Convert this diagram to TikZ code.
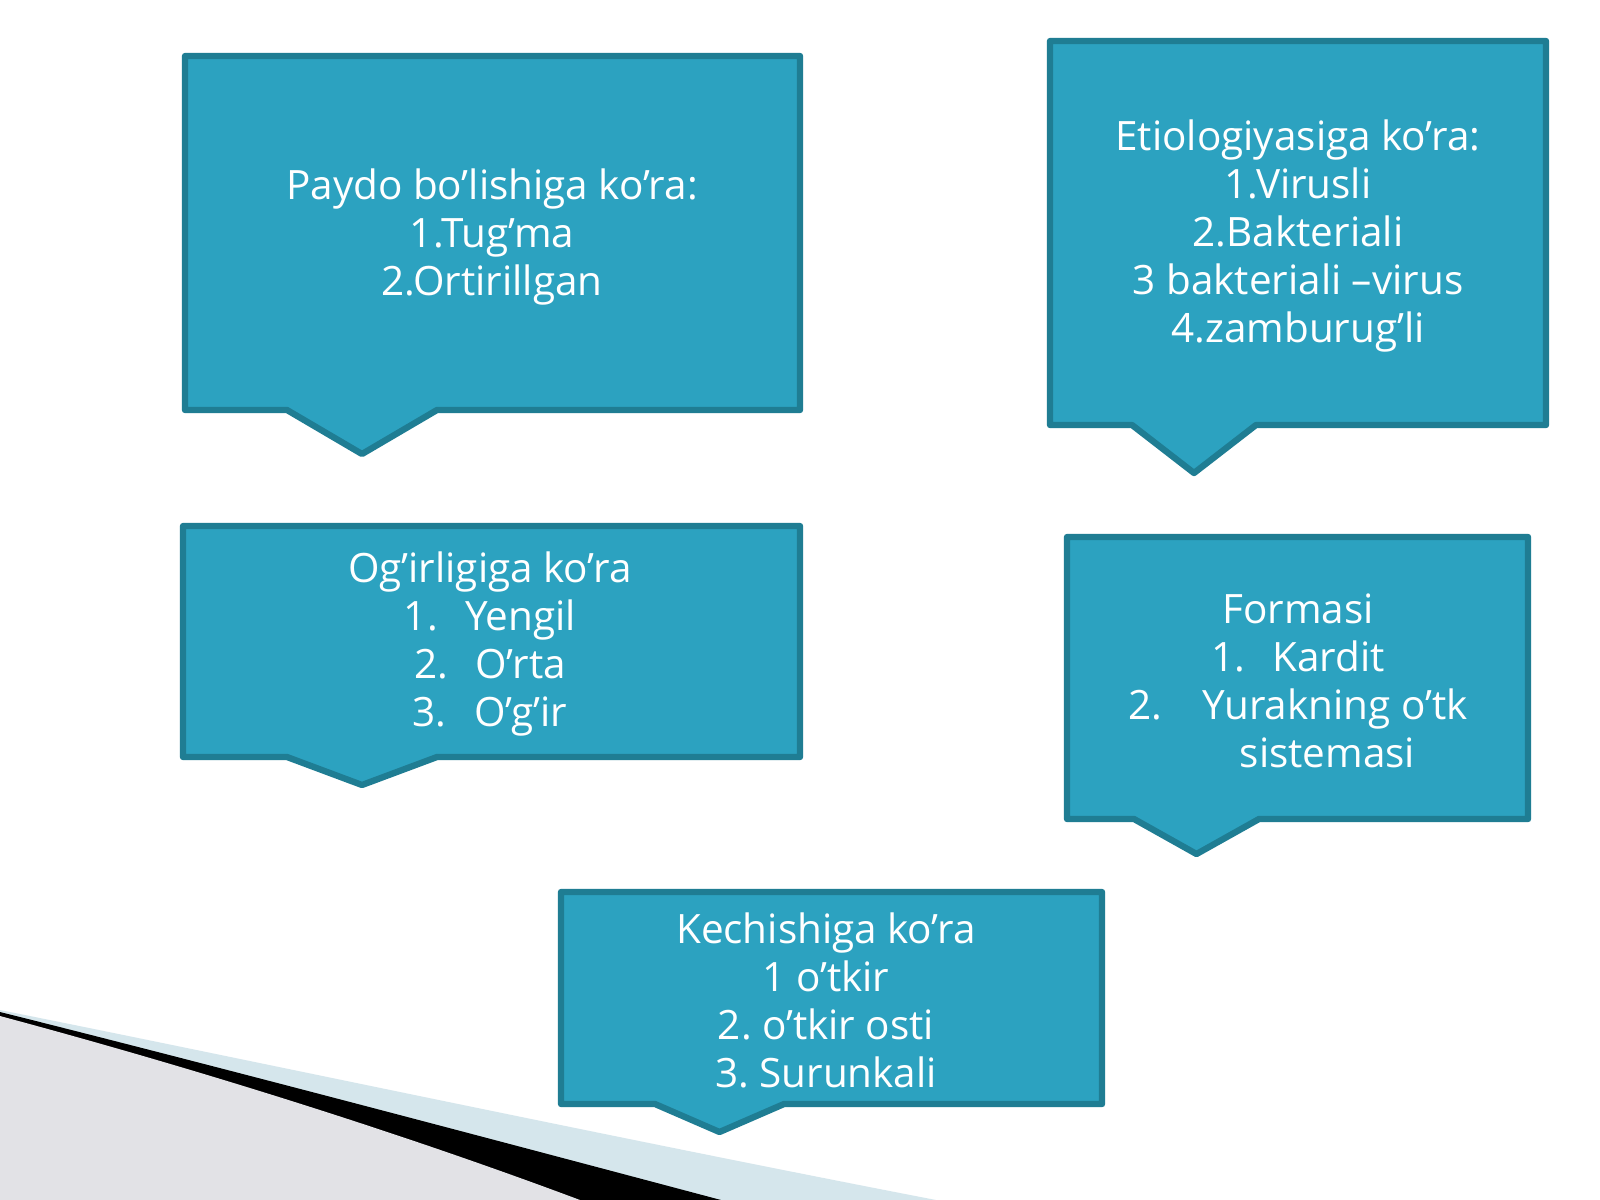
\documentclass[tikz,border=0pt]{standalone}
\usepackage{fontspec}
\setmainfont{Open Sans}
\usepackage{tikz}
\definecolor{boxteal}{HTML}{2CA2C0}
\definecolor{boxedge}{HTML}{1F7D93}
\definecolor{swoopgray}{HTML}{E2E2E6}
\definecolor{swooppale}{HTML}{D5E6EC}
\tikzstyle{call_box}=[fill=boxteal,draw=boxedge,line width=1.8pt,line join=round]
\tikzstyle{box_text}=[text=white,align=center,inner sep=0pt,font=\fontsize{11.5}{13.65}\selectfont]
\newcommand{\listgap}{\hspace{0.68em}}
\newcommand{\widegap}{\hspace{1em}}
% #1,#2 top left; #3,#4 bottom right; #5,#6 pointer base; #7 pointer tip depth
\newcommand{\callbox}[7]{%
  \draw[call_box] (#1,#2) -- (#3,#2) -- (#3,#4) -- (#6,#4) -- ({(#5+#6)/2},#7) -- (#5,#4) -- (#1,#4) -- cycle;}

\begin{document}
\frenchspacing
\begin{tikzpicture}[x=0.01cm,y=-0.01cm]
  \useasboundingbox (0,0) rectangle (1600,1200);
  \fill[white] (0,0) rectangle (1600,1200);

  \fill[swooppale] (0,1010) .. controls (250,1060) and (600,1135) .. (936,1200) -- (0,1200) -- cycle;
  \fill[black] (0,1012) .. controls (200,1062) and (450,1128) .. (721,1200) -- (0,1200) -- cycle;
  \fill[swoopgray] (0,1016) .. controls (220,1075) and (420,1140) .. (580,1200) -- (0,1200) -- cycle;

  \callbox{185}{56}{800}{410}{287}{437}{454}
  \callbox{1050}{41}{1546}{425}{1132}{1256}{473}
  \callbox{183}{526}{800}{757}{287}{437}{785}
  \callbox{1067}{537}{1528}{819}{1134}{1259}{854}
  \callbox{561}{892}{1102}{1104}{655}{784}{1132}

  \node[box_text] (paydo) at (492,237) {Paydo bo’lishiga ko’ra:\\1.Tug’ma\\2.Ortirillgan};
  \node[box_text] (etiol) at (1298,236) {Etiologiyasiga ko’ra:\\1.Virusli\\2.Bakteriali\\3 bakteriali –virus\\4.zamburug’li};
  \node[box_text] (ogir) at (490,644) {Og’irligiga ko’ra\\1.\listgap Yengil\\2.\listgap O’rta\\3.\listgap O’g’ir};
  \node[box_text] (forma) at (1298,681) {Formasi\\1.\listgap Kardit\\2.\widegap Yurakning o’tk\\\hspace*{1.46em}sistemasi};
  \node[box_text] (kechish) at (826,1000) {Kechishiga ko’ra\\1 o’tkir\\2. o’tkir osti\\3. Surunkali};
\end{tikzpicture}
\end{document}
